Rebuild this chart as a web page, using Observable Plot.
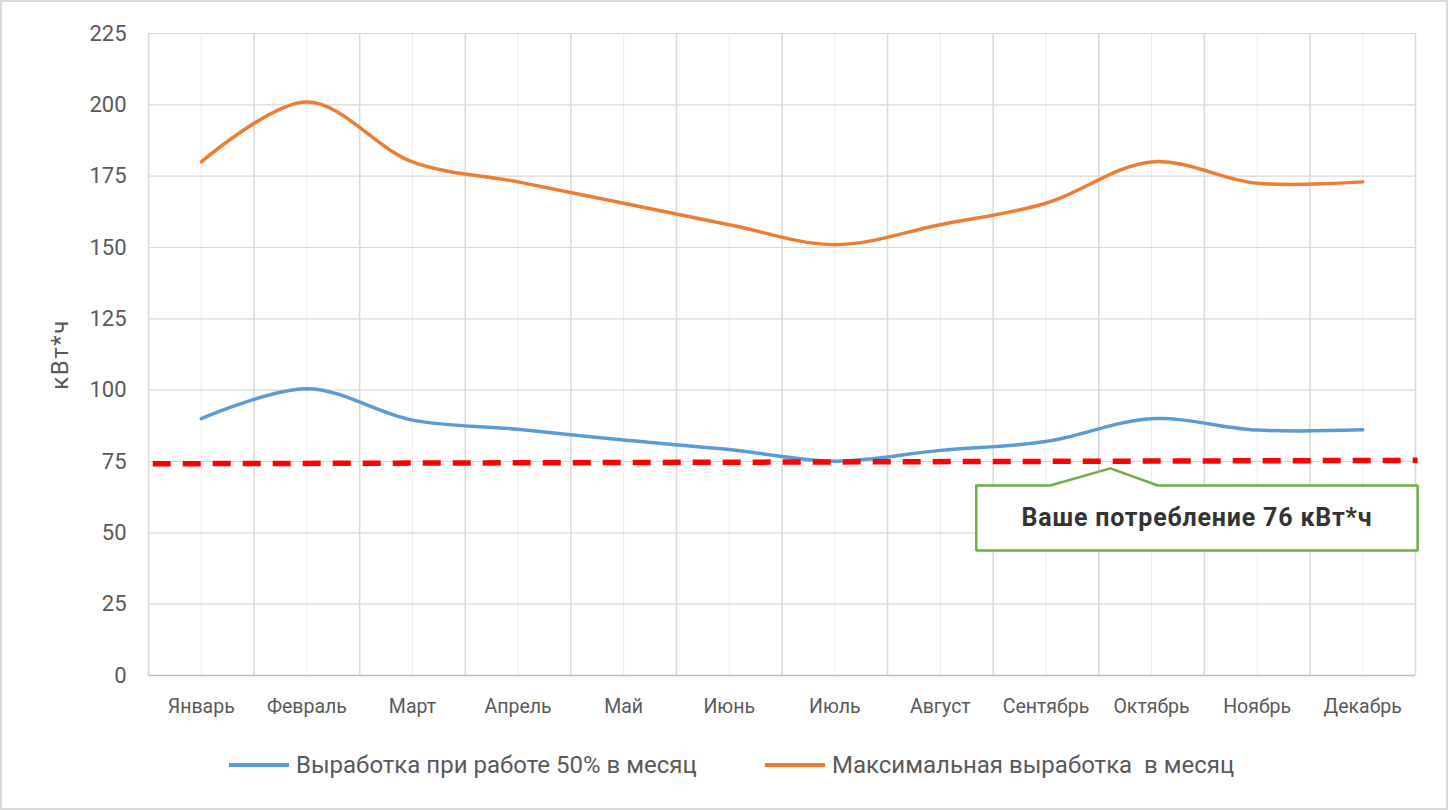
<!DOCTYPE html>
<html>
<head>
<meta charset="utf-8">
<script src="https://cdn.jsdelivr.net/npm/d3@7"></script>
<script src="https://cdn.jsdelivr.net/npm/@observablehq/plot@0.6"></script>
<style>
  body { margin: 0; background: #fff; }
  #wrap { position: relative; width: 1448px; height: 810px; background: #fff; overflow: hidden;
          font-family: Roboto, "Liberation Sans", Arial, sans-serif; }
  #frame { position: absolute; left: 0; top: 0; width: 1444px; height: 806px; border: 2px solid #d9d9d9; pointer-events: none; }
  #chart { position: absolute; left: 0; top: 0; }
  .leg { position: absolute; top: 750px; display: flex; align-items: center; font-size: 24px; color: #595959; height: 30px; white-space: pre; }
  .sw { width: 60px; height: 4px; margin-right: 7px; }
</style>
</head>
<body>
<div id="wrap">
  <div id="chart"></div>
  <div class="leg" style="left:229px"><div class="sw" style="background:#5b9bd5"></div><span id="l1"></span></div>
  <div class="leg" style="left:765px"><div class="sw" style="background:#ed7d31"></div><span id="l2"></span></div>
  <div id="frame"></div>
</div>
<script>
// ---- data ----
const months = ["Январь","Февраль","Март","Апрель","Май","Июнь","Июль","Август","Сентябрь","Октябрь","Ноябрь","Декабрь"];
const halfOutput = [90, 100.5, 89.5, 86.3, 82.5, 79.2, 75.1, 78.9, 82, 90, 86, 86.1];
const maxOutput = [180, 201, 180, 173, 165.5, 158, 151, 158, 165.5, 180, 172.5, 173];
const consumption = [74.2, 75.4];          // dashed consumption line (start, end)
const yTicks = [0, 25, 50, 75, 100, 125, 150, 175, 200, 225];
const seriesNames = ["Выработка при работе 50% в месяц", "Максимальная выработка  в месяц"];
const yLabel = "кВт*ч";
const calloutText = "Ваше потребление 76 кВт*ч";

// ---- build ----
const half = halfOutput.map((v, i) => ({i, v}));
const full = maxOutput.map((v, i) => ({i, v}));
const consLine = [{i: -0.46, v: consumption[0]}, {i: 11.52, v: consumption[1]}];

// callout polygon (box with wedge pointing to the consumption line), in data units
const cb = {x0: 7.34, x1: 11.52, y0: 43.8, y1: 66.6, wx0: 8.04, wx1: 9.06, tipX: 8.61, tipY: 72.6};
const callout = [
  {i: cb.x0, v: cb.y1}, {i: cb.wx0, v: cb.y1}, {i: cb.tipX, v: cb.tipY}, {i: cb.wx1, v: cb.y1},
  {i: cb.x1, v: cb.y1}, {i: cb.x1, v: cb.y0}, {i: cb.x0, v: cb.y0}, {i: cb.x0, v: cb.y1}
];

const fontFamily = 'Roboto, "Liberation Sans", Arial, sans-serif';

const chart = Plot.plot({
  width: 1448,
  height: 740,
  marginLeft: 148,
  marginRight: 33,
  marginTop: 33,
  marginBottom: 65,
  x: {domain: [-0.5, 11.5], axis: null},
  y: {domain: [0, 225], axis: null},
  style: {fontFamily, color: "#595959", background: "transparent", overflow: "visible"},
  marks: [
    Plot.ruleX(d3.range(12), {stroke: "#ececec", strokeWidth: 1}),
    Plot.ruleX(d3.range(13).map(k => k - 0.5), {stroke: "#d9d9d9", strokeWidth: 1.5}),
    Plot.ruleY(yTicks.filter(t => t > 0), {stroke: "#d9d9d9", strokeWidth: 1.2}),
    Plot.ruleY([0], {stroke: "#bfbfbf", strokeWidth: 1.5}),
    Plot.axisY({ticks: yTicks, tickSize: 0, tickPadding: 22, fontSize: 22, fill: "#595959",
                label: yLabel, labelAnchor: "center", labelArrow: "none", labelOffset: 98}),
    Plot.axisX({ticks: d3.range(12), tickFormat: k => months[k], tickSize: 0, tickPadding: 24, fontSize: 19.5, fill: "#595959", label: null}),
    Plot.line(full, {x: "i", y: "v", stroke: "#ed7d31", strokeWidth: 3.5, curve: "catmull-rom"}),
    Plot.line(half, {x: "i", y: "v", stroke: "#5b9bd5", strokeWidth: 3.5, curve: "catmull-rom"}),
    Plot.line(consLine, {x: "i", y: "v", stroke: "#ff0000", strokeWidth: 5.5, strokeDasharray: "18,12", strokeLinecap: "butt"}),
    Plot.line(callout, {x: "i", y: "v", stroke: "#70ad47", strokeWidth: 2.5, fill: "#ffffff", strokeLinejoin: "miter"}),
    Plot.text([calloutText], {x: (cb.x0 + cb.x1) / 2, y: (cb.y0 + cb.y1) / 2, fontSize: 25, fontWeight: "bold", fill: "#333333"})
  ]
});
document.getElementById("chart").appendChild(chart);
// letter spacing tweaks to mimic the original typeface widths
d3.select(chart).selectAll("text").each(function() {
  const t = this.textContent;
  if (t === calloutText) d3.select(this).attr("letter-spacing", "0.8px");
  if (t === yLabel) d3.select(this).attr("font-size", 24).attr("letter-spacing", "1.5px");
});
document.getElementById("l1").textContent = seriesNames[0];
document.getElementById("l2").textContent = seriesNames[1];
</script>
</body>
</html>
